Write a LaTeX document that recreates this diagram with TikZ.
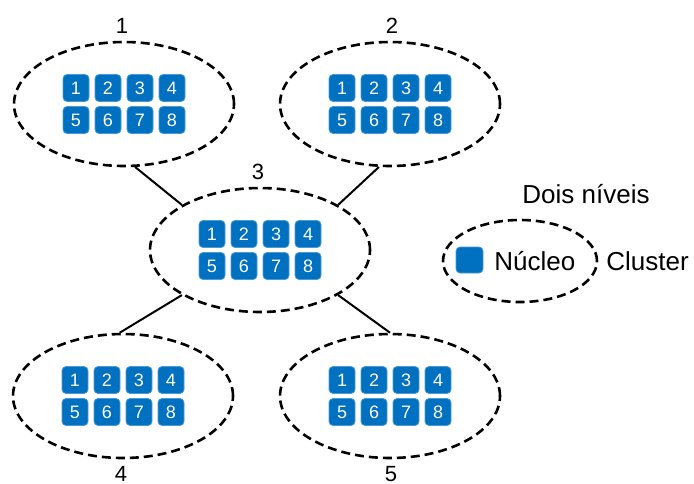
\documentclass[tikz,border=0pt]{standalone}
\usepackage{fontspec}
\setmainfont{Liberation Sans}
\usetikzlibrary{shapes.geometric, positioning}
\definecolor{coreblue}{RGB}{0,112,192}

\begin{document}
\begin{tikzpicture}[x=0.5pt, y=-0.5pt,
          % Cluster and core styles
          cluster/.style={ellipse, draw=black, line width=1.3pt, dash pattern=on 4.5pt off 2.5pt, minimum width=110pt, minimum height=62pt, inner sep=0pt},
          core/.style={rectangle, rounded corners=2pt, fill=coreblue, draw=coreblue!70!white, line width=0.4pt, minimum width=13pt, minimum height=13.5pt, inner sep=0pt, text=white, font=\fontsize{9}{9}\selectfont},
          % Text styles
          clabel/.style={anchor=base, font=\fontsize{11}{11}\selectfont},
          legendtext/.style={anchor=base west, inner sep=0pt, font=\fontsize{13}{13}\selectfont},
          % Connector style
          link/.style={draw=black, line width=1pt}
        ]
          \useasboundingbox (0,0) rectangle (694,483);

          % ==========================================
          % 1. Clusters
          % ==========================================
          \node[cluster] (c1) at (124,104) {};
          \node[cluster] (c2) at (390,104) {};
          \node[cluster] (c3) at (260,250) {};
          \node[cluster] (c4) at (123,396) {};
          \node[cluster] (c5) at (390,396) {};

          % Cores inside each cluster
          \foreach \c in {1,...,5} {
            \foreach \n/\dx/\dy in {1/-48/-16, 2/-16/-16, 3/16/-16, 4/48/-16,
                                    5/-48/16, 6/-16/16, 7/16/16, 8/48/16} {
              \node[core] (c\c-\n) at ([shift={(\dx,\dy)}]c\c.center) {\n};
            }
          }

          % Cluster numbers
          \node[clabel] (l1) at (122,33) {1};
          \node[clabel] (l2) at (392,33) {2};
          \node[clabel] (l3) at (258,179) {3};
          \node[clabel] (l4) at (121,481) {4};
          \node[clabel] (l5) at (391,481) {5};

          % ==========================================
          % 2. Connections
          % ==========================================
          \draw[link] (c1.-80) -- (c3.150);
          \draw[link] (c2.-100) -- (c3.30);
          \draw[link] (c3.-150) -- (c4.93);
          \draw[link] (c3.-30) -- (c5.90);

          % ==========================================
          % 3. Legend
          % ==========================================
          \node[legendtext] (title) at (522,203) {Dois níveis};
          \node[cluster, minimum width=77pt, minimum height=41pt] (lcluster) at (520,261) {};
          \node[core, minimum width=13.5pt, minimum height=13pt] (lcore) at (469.5,260) {};
          \node[legendtext] (lcoretext) at (494,270) {Núcleo};
          \node[legendtext] (lclustertext) at (606,270) {Cluster};
        \end{tikzpicture}
\end{document}
